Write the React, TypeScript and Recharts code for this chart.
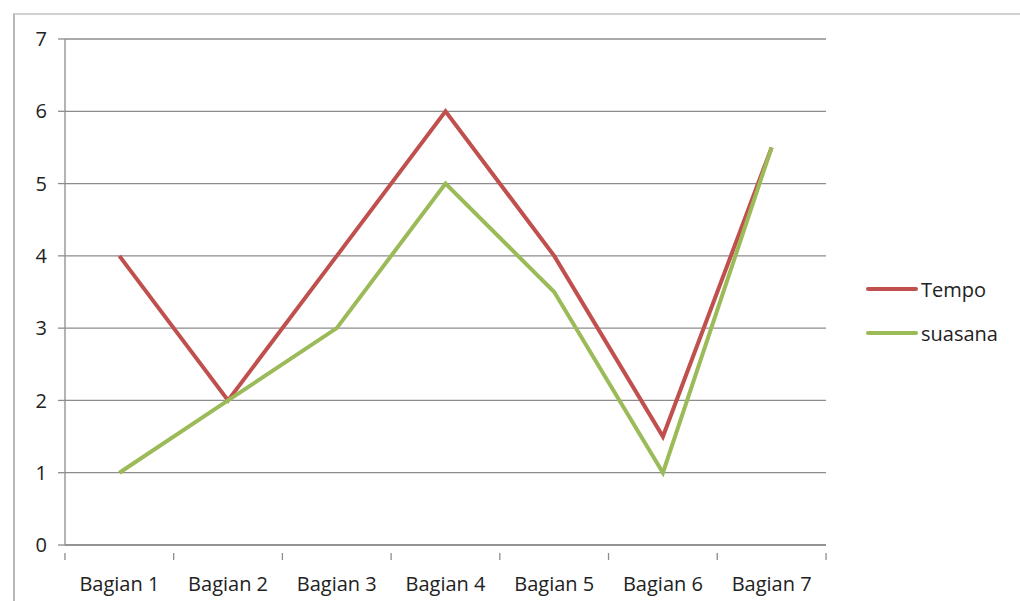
import { LineChart, Line, XAxis, YAxis, CartesianGrid, Legend } from 'recharts';

const categories = ['Bagian 1', 'Bagian 2', 'Bagian 3', 'Bagian 4', 'Bagian 5', 'Bagian 6', 'Bagian 7'];
const tempo = [4, 2, 4, 6, 4, 1.5, 5.5];
const suasana = [1, 2, 3, 5, 3.5, 1, 5.5];
const yTicks = [0, 1, 2, 3, 4, 5, 6, 7];

const data = categories.map((name, i) => ({ name, Tempo: tempo[i], suasana: suasana[i] }));

const font = '"Open Sans", "DejaVu Sans", sans-serif';
const axisColor = '#8c8c8c';
const seriesColors: Record<string, string> = { Tempo: '#c0504d', suasana: '#9bbb59' };

// x tick: label in the middle of the band, small tick mark at the band's left edge (Excel style)
function CategoryTick(props: any) {
    const { x, y, payload, index } = props;
    const half = 54.4;
    return (
        <g>
            <line x1={x - half} y1={y} x2={x - half} y2={y + 7} stroke={axisColor} strokeWidth={1.3} />
            {index === categories.length - 1 && (
                <line x1={x + half} y1={y} x2={x + half} y2={y + 7} stroke={axisColor} strokeWidth={1.3} />
            )}
            <text x={x} y={y + 33} textAnchor="middle" dominantBaseline="middle" fill="#222" fontSize={20} fontFamily={font}>
                {payload.value}
            </text>
        </g>
    );
}

function LegendBox({ payload }: any) {
    return (
        <div style={{ fontFamily: font, fontSize: 20, color: '#222' }}>
            {(payload || []).map((p: any) => (
                <div key={p.value} style={{ display: 'flex', alignItems: 'center', height: 44 }}>
                    <span style={{ display: 'inline-block', width: 52, height: 4, borderRadius: 2, background: seriesColors[p.value], marginRight: 3 }} />
                    <span>{p.value}</span>
                </div>
            ))}
        </div>
    );
}

export default function App() {
    return (
        <div style={{ position: 'absolute', left: 0, top: 0, width: 1020, height: 601, background: '#fff', overflow: 'hidden' }}>
            <div style={{ position: 'absolute', left: 13, top: 13, width: 1020, height: 620, borderLeft: '2px solid #b8b8b8', borderTop: '2px solid #d0d0d0' }} />
            <LineChart
                width={1020}
                height={601}
                data={data}
                margin={{ top: 39, right: 194, left: 20, bottom: 26 }}
            >
                <CartesianGrid vertical={false} stroke={axisColor} strokeWidth={1.3} />
                <XAxis
                    dataKey="name"
                    scale="band"
                    stroke={axisColor}
                    strokeWidth={1.3}
                    tick={<CategoryTick />}
                    tickLine={false}
                    height={30}
                    interval={0}
                />
                <YAxis
                    domain={[0, 7]}
                    ticks={yTicks}
                    stroke={axisColor}
                    strokeWidth={1.3}
                    tick={{ fill: '#222', fontSize: 20, fontFamily: font }}
                    fontSize={20}
                    tickSize={7}
                    tickMargin={11}
                    width={45}
                    interval={0}
                />
                <Legend
                    layout="horizontal"
                    verticalAlign="middle"
                    align="center"
                    content={<LegendBox />}
                    wrapperStyle={{ position: 'absolute', left: 866, top: 267, width: 150, margin: 0 }}
                />
                <Line dataKey="Tempo" stroke={seriesColors.Tempo} strokeWidth={4} dot={false} isAnimationActive={false} />
                <Line dataKey="suasana" stroke={seriesColors.suasana} strokeWidth={4} dot={false} isAnimationActive={false} />
            </LineChart>
        </div>
    );
}
